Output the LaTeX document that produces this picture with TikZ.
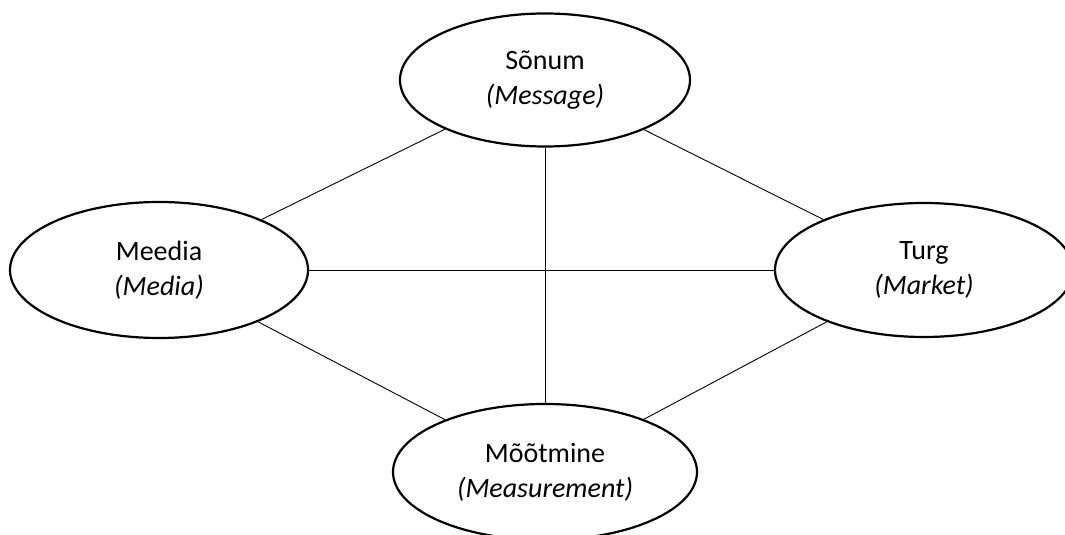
\documentclass[tikz,border=0pt]{standalone}
\usepackage{fontspec}
\setmainfont{Carlito}
\usepackage{tikz}
\usetikzlibrary{shapes,positioning,calc}

\begin{document}
\begin{tikzpicture}[x=0.5pt, y=0.5pt,
    topic/.style={draw, ellipse, line width=1.1pt, inner sep=0pt, align=center,
        font=\fontsize{14}{17.5}\selectfont},
    link/.style={line width=0.45pt}]
    \useasboundingbox (0,0) rectangle (1065,535);
    \node[topic, minimum width=145pt, minimum height=66.5pt] (msg) at (545,455) {Sõnum\\\textit{(Message)}};
    \node[topic, minimum width=149pt, minimum height=68pt] (media) at (159,265) {Meedia\\\textit{(Media)}};
    \node[topic, minimum width=149pt, minimum height=67pt] (market) at (924,265) {Turg\\\textit{(Market)}};
    \node[topic, minimum width=152pt, minimum height=68pt] (measure) at (545,63) {Mõõtmine\\\textit{(Measurement)}};
    % connectors between all four
    \draw[link] (msg) -- (media);
    \draw[link] (msg) -- (market);
    \draw[link] (msg) -- (measure);
    \draw[link] (media) -- (market);
    \draw[link] (media) -- (measure);
    \draw[link] (market) -- (measure);
\end{tikzpicture}
\end{document}
